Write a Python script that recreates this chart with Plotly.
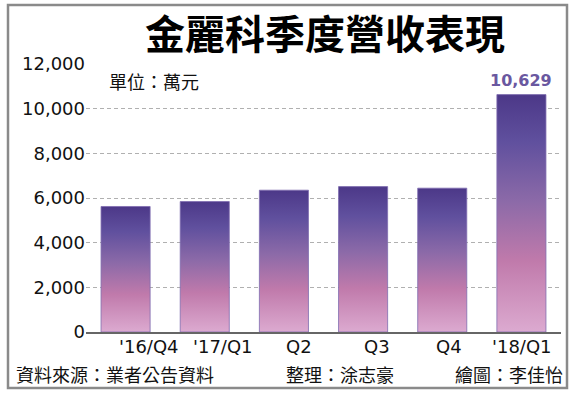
import plotly.graph_objects as go

categories = ["'16/Q4", "'17/Q1", "Q2", "Q3", "Q4", "'18/Q1"]
revenue = [5620, 5840, 6350, 6510, 6440, 10629]
y_ticks = [0, 2000, 4000, 6000, 8000, 10000, 12000]
y_ticklabels = ["0", "2,000", "4,000", "6,000", "8,000", "10,000", "12,000"]
title_text = "金麗科季度營收表現"
unit_text = "單位：萬元"
source_text = "資料來源：業者公告資料"
editor_text = "整理：涂志豪"
artist_text = "繪圖：李佳怡"

# layout-only: horizontal pixel nudges of category labels (as in the print graphic)
label_shift_px = [23, 18, 15, 14, 7, 1]

W, H = 575, 398
ML, MR, MT, MB = 86, 14, 64, 66
PW = W - ML - MR
PH = H - MT - MB

def px(x):
    return (x - ML) / PW

def py(y):
    return (H - MB - y) / PH

CJK = "Noto Sans CJK TC"
NUM = "DejaVu Sans"

grad = [[0.0, "#dcaad0"], [0.3, "#c07aab"], [0.55, "#8c6aa8"],
        [0.8, "#60509e"], [1.0, "#4c3888"]]

fig = go.Figure()
half = 0.31
for i, v in enumerate(revenue):
    fig.add_trace(go.Scatter(
        x=[i - half, i + half, i + half, i - half, i - half],
        y=[0, 0, v, v, 0],
        mode="lines",
        fill="toself",
        line=dict(width=0.8, color="#7f6cb0"),
        fillgradient=dict(type="vertical", colorscale=grad),
        hoverinfo="skip",
        showlegend=False,
    ))

for i, (cat, sh) in enumerate(zip(categories, label_shift_px)):
    fig.add_annotation(x=i, y=0, xref="x", yref="y", text=cat, showarrow=False,
                       xanchor="center", yanchor="middle", xshift=sh, yshift=-14,
                       font=dict(family=NUM, size=18, color="#111111"))

fig.add_annotation(
    x=len(revenue) - 1, y=revenue[-1], xref="x", yref="y",
    text=f"{revenue[-1]:,}", showarrow=False, yanchor="bottom", yshift=3,
    font=dict(family=NUM, size=16, color="#6a58a0", weight="bold"),
)

fig.add_annotation(x=px(325), y=py(32), xref="paper", yref="paper",
                   text=title_text, showarrow=False, xanchor="center", yanchor="middle",
                   font=dict(family=CJK, size=40, color="#000000", weight="bold"))
fig.add_annotation(x=px(107), y=py(81), xref="paper", yref="paper",
                   text=unit_text, showarrow=False, xanchor="left", yanchor="middle",
                   font=dict(family=CJK, size=18, color="#111111"))
fig.add_annotation(x=px(14), y=py(374), xref="paper", yref="paper",
                   text=source_text, showarrow=False, xanchor="left", yanchor="middle",
                   font=dict(family=CJK, size=18, color="#111111"))
fig.add_annotation(x=px(284), y=py(374), xref="paper", yref="paper",
                   text=editor_text, showarrow=False, xanchor="left", yanchor="middle",
                   font=dict(family=CJK, size=18, color="#111111"))
fig.add_annotation(x=px(565), y=py(374), xref="paper", yref="paper",
                   text=artist_text, showarrow=False, xanchor="right", yanchor="middle",
                   font=dict(family=CJK, size=18, color="#111111"))

fig.add_shape(type="rect", xref="paper", yref="paper",
              x0=px(8), x1=px(567), y0=py(388), y1=py(5),
              line=dict(color="#8a8a8a", width=2.5), fillcolor="rgba(0,0,0,0)",
              layer="below")

fig.update_layout(
    width=W, height=H,
    margin=dict(l=ML, r=MR, t=MT, b=MB),
    paper_bgcolor="white", plot_bgcolor="white",
    xaxis=dict(range=[-0.5, len(categories) - 0.5], tickvals=list(range(len(categories))),
               ticktext=categories, showticklabels=False, showgrid=False, zeroline=False,
               showline=True, linecolor="#666666", linewidth=2,
               ticks="", fixedrange=True),
    yaxis=dict(range=[0, 12000], tickvals=y_ticks, ticktext=y_ticklabels,
               showgrid=True, gridcolor="#b0b0b0", griddash="4px,3px", gridwidth=1,
               zeroline=False, showline=False, ticks="",
               tickfont=dict(family=NUM, size=18, color="#111111"),
               fixedrange=True),
)

fig.write_html("out.html", post_script="document.body.style.margin='0';",
               config={"displayModeBar": False})
